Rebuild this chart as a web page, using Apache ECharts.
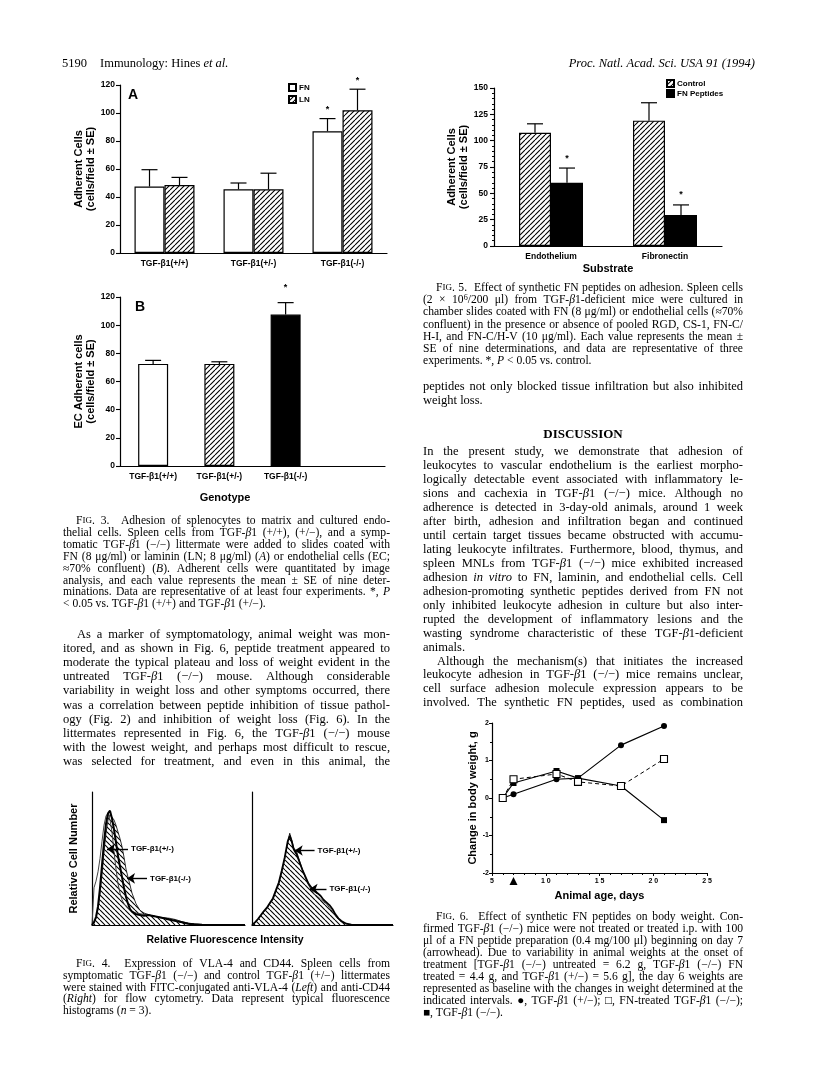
<!DOCTYPE html>
<html>
<head>
<meta charset="utf-8">
<script src="https://cdn.jsdelivr.net/npm/echarts@6/dist/echarts.min.js"></script>
<style>
html, body { margin: 0; padding: 0; background: #fff; }
#page { width: 816px; height: 1078px; }
</style>
</head>
<body>
<div id="page"></div>
<script>
// ---- Fig. 3A: adhesion to FN / LN
const genotypes = ['TGF-β1(+/+)', 'TGF-β1(+/-)', 'TGF-β1(-/-)'];
const fnMean = [47.5, 45.5, 87];
const fnErr = [12, 4.5, 9];
const fnSig = [0, 0, 1];
const lnMean = [48.5, 45.5, 102];
const lnErr = [5.5, 11.5, 15];
const lnSig = [0, 0, 1];

// ---- Fig. 3B: adhesion to endothelial cells
const ecMean = [72.5, 72.5, 107.5];
const ecErr = [2.5, 1.5, 8.5];
const ecSig = [0, 0, 1];

// ---- Fig. 5: FN peptides
const substrates = ['Endothelium', 'Fibronectin'];
const controlMean = [107.5, 119];
const controlErr = [8.5, 17];
const peptideMean = [60, 29.5];
const peptideErr = [14, 9.5];
const peptideSig = [1, 1];

// ---- Fig. 6: body weight
const days = [6, 7, 11, 13, 17, 21];
const hetWeight = [0, 0.1, 0.5, 0.53, 1.41, 1.92];
const treatedWeight = [0, 0.5, 0.64, 0.43, 0.32, 1.04];
const untreatedWeight = [0, 0.4, 0.72, 0.53, 0.32, -0.59];
const treatmentDay = 7;

// ---- Fig. 4: fluorescence histograms (relative counts by channel)
const vlaChan = [0, 2, 4, 6, 8, 10, 12, 14, 16, 18, 20, 22, 24, 26, 28, 30, 32, 34, 36, 38, 40, 44, 48, 52, 56, 60, 66, 72, 78, 84, 90, 96, 102, 110, 120, 153];
const vlaHet = [0, 1, 5, 12, 23, 38, 55, 69, 79, 83, 82, 79, 75, 70, 65, 59, 51, 42, 36, 30, 24, 16, 11, 9, 8, 7, 6, 5.5, 5, 4, 2.5, 1.5, 0.8, 0.3, 0, 0];
const vlaKo = [0, 2, 6, 14, 28, 45, 62, 76, 84, 86, 80, 72, 62, 52, 44, 36, 28, 21, 16, 12, 10, 8, 7.5, 7, 7.5, 7, 6, 5, 4, 3, 2, 1, 0.5, 0.2, 0, 0];
const vlaOther = [0, 28, 33, 40, 50, 63, 75, 82, 84, 79, 70, 55, 42, 31, 24, 19, 16, 14, 12.5, 11, 10, 9, 8.5, 8, 7.5, 7, 6, 5, 4, 3, 2, 1.2, 0.6, 0.2, 0, 0];
const cdChan = [0, 3, 6, 9, 12, 15, 18, 21, 24, 27, 30, 33, 36, 38, 40, 42, 45, 48, 51, 54, 57, 60, 63, 66, 69, 72, 75, 78, 81, 84, 87, 90, 95, 100, 110, 142];
const cdHet = [0, 2, 4, 7, 10, 12.5, 16, 19, 25, 31, 40, 50, 62, 69, 64, 58, 55, 48, 41, 35, 30, 26, 23, 21.5, 19.5, 17.5, 16, 13, 10, 7, 4.5, 2.5, 0.8, 0.2, 0, 0];
const cdKo = [0, 2, 4.5, 7.5, 10.5, 13, 16.5, 20, 26, 32, 41, 51, 63, 67, 63, 57, 53, 47, 41, 36, 31, 28, 26, 24, 22, 19, 17, 15, 12, 8, 5, 3, 1, 0.3, 0, 0];
const vlaArrows = [['TGF-β1(+/-)', 36, 15, 57], ['TGF-β1(-/-)', 55, 35, 35]];
const cdArrows = [['TGF-β1(+/-)', 63, 43, 56], ['TGF-β1(-/-)', 75, 58, 27]];

// ---- page text
const fig3Caption = [
  'F{sc|IG}. 3.  Adhesion of splenocytes to matrix and cultured endo-',
  'thelial cells. Spleen cells from TGF-{i|β}1 (+/+), (+/−), and a symp-',
  'tomatic TGF-{i|β}1 (−/−) littermate were added to slides coated with',
  'FN (8 μg/ml) or laminin (LN; 8 μg/ml) ({i|A}) or endothelial cells (EC;',
  '≈70% confluent) ({i|B}). Adherent cells were quantitated by image',
  'analysis, and each value represents the mean ± SE of nine deter-',
  'minations. Data are representative of at least four experiments. *, {i|P}',
  '< 0.05 vs. TGF-{i|β}1 (+/+) and TGF-{i|β}1 (+/−).'
];
const leftBody = [
  'As a marker of symptomatology, animal weight was mon-',
  'itored, and as shown in Fig. 6, peptide treatment appeared to',
  'moderate the typical plateau and loss of weight evident in the',
  'untreated TGF-{i|β}1 (−/−) mouse. Although considerable',
  'variability in weight loss and other symptoms occurred, there',
  'was a correlation between peptide inhibition of tissue pathol-',
  'ogy (Fig. 2) and inhibition of weight loss (Fig. 6). In the',
  'littermates represented in Fig. 6, the TGF-{i|β}1 (−/−) mouse',
  'with the lowest weight, and perhaps most difficult to rescue,',
  'was selected for treatment, and even in this animal, the'
];
const fig4Caption = [
  'F{sc|IG}. 4.  Expression of VLA-4 and CD44. Spleen cells from',
  'symptomatic TGF-{i|β}1 (−/−) and control TGF-{i|β}1 (+/−) littermates',
  'were stained with FITC-conjugated anti-VLA-4 ({i|Left}) and anti-CD44',
  '({i|Right}) for flow cytometry. Data represent typical fluorescence',
  'histograms ({i|n} = 3).'
];
const fig5Caption = [
  'F{sc|IG}. 5.  Effect of synthetic FN peptides on adhesion. Spleen cells',
  '(2 × 10{sup|6}/200 μl) from TGF-{i|β}1-deficient mice were cultured in',
  'chamber slides coated with FN (8 μg/ml) or endothelial cells (≈70%',
  'confluent) in the presence or absence of pooled RGD, CS-1, FN-C/',
  'H-I, and FN-C/H-V (10 μg/ml). Each value represents the mean ±',
  'SE of nine determinations, and data are representative of three',
  'experiments. *, {i|P} < 0.05 vs. control.'
];
const rightBodyTop = [
  'peptides not only blocked tissue infiltration but also inhibited',
  'weight loss.'
];
const discussion1 = [
  'In the present study, we demonstrate that adhesion of',
  'leukocytes to vascular endothelium is the earliest morpho-',
  'logically detectable event associated with inflammatory le-',
  'sions and cachexia in TGF-{i|β}1 (−/−) mice. Although no',
  'adherence is detected in 3-day-old animals, around 1 week',
  'after birth, adhesion and infiltration began and continued',
  'until certain target tissues became obstructed with accumu-',
  'lating leukocyte infiltrates. Furthermore, blood, thymus, and',
  'spleen MNLs from TGF-{i|β}1 (−/−) mice exhibited increased',
  'adhesion {i|in} {i|vitro} to FN, laminin, and endothelial cells. Cell',
  'adhesion-promoting synthetic peptides derived from FN not',
  'only inhibited leukocyte adhesion in culture but also inter-',
  'rupted the development of inflammatory lesions and the',
  'wasting syndrome characteristic of these TGF-{i|β}1-deficient',
  'animals.'
];
const discussion2 = [
  'Although the mechanism(s) that initiates the increased',
  'leukocyte adhesion in TGF-{i|β}1 (−/−) mice remains unclear,',
  'cell surface adhesion molecule expression appears to be',
  'involved. The synthetic FN peptides, used as combination'
];
const fig6Caption = [
  'F{sc|IG}. 6.  Effect of synthetic FN peptides on body weight. Con-',
  'firmed TGF-{i|β}1 (−/−) mice were not treated or treated i.p. with 100',
  'μl of a FN peptide preparation (0.4 mg/100 μl) beginning on day 7',
  '(arrowhead). Due to variability in animal weights at the onset of',
  'treatment [TGF-{i|β}1 (−/−) untreated = 6.2 g, TGF-{i|β}1 (−/−) FN',
  'treated = 4.4 g, and TGF-{i|β}1 (+/−) = 5.6 g], the day 6 weights are',
  'represented as baseline with the changes in weight determined at the',
  'indicated intervals. ●, TGF-{i|β}1 (+/−); □, FN-treated TGF-{i|β}1 (−/−);',
  '■, TGF-{i|β}1 (−/−).'
];

const SERIF = "'Liberation Serif', 'Times New Roman', serif";
const SANS = "'Liberation Sans', Arial, Helvetica, sans-serif";
const CAP = 11.6;   // caption font size
const BODY = 12.5;  // body font size

// hatch patterns
function makeHatch(dir) {
  const s = 5;
  const c = document.createElement('canvas');
  c.width = s; c.height = s;
  const g = c.getContext('2d');
  g.fillStyle = '#fff';
  g.fillRect(0, 0, s, s);
  g.strokeStyle = '#000';
  g.lineWidth = 1.1;
  g.beginPath();
  for (let k = -1; k <= 1; k++) {
    if (dir > 0) { g.moveTo(k * s, s); g.lineTo(k * s + s, 0); }
    else { g.moveTo(k * s, 0); g.lineTo(k * s + s, s); }
  }
  g.stroke();
  return { image: c, repeat: 'repeat' };
}
const hatchFwd = makeHatch(1);
const hatchBack = makeHatch(-1);

// ---- text layout helpers (justified columns)
const meas = document.createElement('canvas').getContext('2d');
function fontOf(size, key) {
  if (key === 'i') return 'italic ' + size + 'px ' + SERIF;
  if (key === 'sc') return (size * 0.78).toFixed(2) + 'px ' + SERIF;
  if (key === 'sup') return (size * 0.7).toFixed(2) + 'px ' + SERIF;
  if (key === 'b') return 'bold ' + size + 'px ' + SERIF;
  return size + 'px ' + SERIF;
}
function richOf(size) {
  return {
    i: { font: fontOf(size, 'i'), fill: '#000' },
    sc: { font: fontOf(size, 'sc'), fill: '#000' },
    sup: { font: fontOf(size, 'sup'), fill: '#000', padding: [0, 0, size * 0.45, 0] }
  };
}
function segs(word) {
  const out = [];
  const re = /\{(\w+)\|([^}]*)\}/g;
  let last = 0, m;
  while ((m = re.exec(word))) {
    if (m.index > last) out.push(['', word.slice(last, m.index)]);
    out.push([m[1], m[2]]);
    last = re.lastIndex;
  }
  if (last < word.length) out.push(['', word.slice(last)]);
  return out;
}
function wordW(word, size) {
  let w = 0;
  segs(word).forEach(function (s) {
    meas.font = fontOf(size, s[0]);
    w += meas.measureText(s[1]).width;
  });
  return w;
}
function textEl(markup, x, y, size, align) {
  return {
    type: 'text', x: x, y: y, silent: true,
    style: { text: markup, font: fontOf(size, ''), fill: '#000', rich: richOf(size), align: align || 'left', verticalAlign: 'middle' }
  };
}
function block(lines, x, y0, lh, width, size, opts) {
  opts = opts || {};
  const els = [];
  lines.forEach(function (line, k) {
    const y = y0 + k * lh;
    const indent = (k === 0 && opts.indent) ? opts.indent : 0;
    const isLast = (k === lines.length - 1) && !opts.justifyLast;
    const words = line.split(' ');
    const ws = words.map(function (w) { return wordW(w, size); });
    const total = ws.reduce(function (a, b) { return a + b; }, 0);
    let gap = wordW(' ', size);
    if (!isLast && words.length > 1) gap = (width - indent - total) / (words.length - 1);
    let cx = x + indent;
    words.forEach(function (w, j) {
      if (w) els.push(textEl(w, cx, y, size));
      cx += ws[j] + gap;
    });
  });
  return els;
}
function sansText(text, x, y, size) {
  return {
    type: 'text', x: x, y: y, silent: true,
    style: { text: text, font: 'bold ' + size + 'px ' + SANS, fill: '#000', align: 'center', verticalAlign: 'middle' }
  };
}

// ---- axes styling
const axLine = { show: true, lineStyle: { color: '#000', width: 1.2 } };
const axTick = { show: true, length: 4, lineStyle: { color: '#000', width: 1.1 } };
function lab(size, extra) {
  return Object.assign({ color: '#000', fontFamily: SANS, fontWeight: 'bold', fontSize: size }, extra || {});
}
function nameStyle(size) {
  return { color: '#000', fontFamily: SANS, fontWeight: 'bold', fontSize: size, lineHeight: size + 1 };
}

// error bars (upper whisker + cap, optional asterisk)
function errorSeries(means, errs, sigs, xi, offset, starGap) {
  return {
    type: 'custom', xAxisIndex: xi, yAxisIndex: xi, silent: true, z: 5,
    data: means.map(function (m, i) { return [i, m, m + errs[i], sigs[i]]; }),
    renderItem: function (params, api) {
      const base = api.coord([api.value(0), api.value(1)]);
      const top = api.coord([api.value(0), api.value(2)]);
      const x = base[0] + offset;
      const kids = [
        { type: 'line', shape: { x1: x, y1: base[1], x2: x, y2: top[1] }, style: { stroke: '#000', lineWidth: 1.2 } },
        { type: 'line', shape: { x1: x - 8, y1: top[1], x2: x + 8, y2: top[1] }, style: { stroke: '#000', lineWidth: 1.2 } }
      ];
      if (api.value(3)) {
        kids.push({ type: 'text', style: { text: '*', x: x, y: top[1] - starGap, align: 'center', verticalAlign: 'middle', font: 'bold 9px ' + SANS, fill: '#000' } });
      }
      return { type: 'group', children: kids };
    }
  };
}
function arrowMarks(list) {
  return {
    silent: true, symbol: ['none', 'arrow'], symbolSize: 8, animation: false,
    lineStyle: { color: '#000', width: 1.4, type: 'solid' },
    label: { show: true, position: 'start', formatter: '{b}', distance: 3, color: '#000', fontFamily: SANS, fontWeight: 'bold', fontSize: 8 },
    data: list.map(function (a) { return [{ name: a[0], coord: [a[1], a[3]] }, { coord: [a[2], a[3]] }]; })
  };
}
function pairs(xs, ys) { return xs.map(function (x, i) { return [x, ys[i]]; }); }

const chart = echarts.init(document.getElementById('page'), null, { renderer: 'canvas' });

const option = {
  backgroundColor: '#fff',
  animation: false,
  grid: [
    { left: 120, top: 85, width: 267, height: 168 },
    { left: 120, top: 297, width: 265, height: 169 },
    { left: 92, top: 792, width: 153, height: 133 },
    { left: 252, top: 792, width: 141, height: 133 },
    { left: 494, top: 88, width: 228, height: 158 },
    { left: 492, top: 723, width: 215, height: 150 }
  ],
  legend: [
    { data: ['FN', 'LN'], left: 288, top: 83, padding: 0, orient: 'vertical', icon: 'rect', itemWidth: 7, itemHeight: 7, itemGap: 3, textStyle: lab(8, { padding: [0, 0, 0, -2] }) },
    { data: ['Control', 'FN Peptides'], left: 666, top: 79, padding: 0, orient: 'vertical', icon: 'rect', itemWidth: 7, itemHeight: 7, itemGap: 1, textStyle: lab(8, { padding: [0, 0, 0, -2] }) }
  ],
  xAxis: [
    { gridIndex: 0, type: 'category', data: genotypes, axisLine: axLine, axisTick: { show: false }, axisLabel: lab(8.5, { margin: 6 }), splitLine: { show: false } },
    { gridIndex: 1, type: 'category', data: genotypes.concat(['']), axisLine: axLine, axisTick: { show: false }, axisLabel: lab(8.5, { margin: 6 }), splitLine: { show: false } },
    { gridIndex: 2, type: 'value', min: 0, max: 153, axisLine: axLine, axisTick: { show: false }, axisLabel: { show: false }, splitLine: { show: false } },
    { gridIndex: 3, type: 'value', min: 0, max: 142, axisLine: axLine, axisTick: { show: false }, axisLabel: { show: false }, splitLine: { show: false } },
    { gridIndex: 4, type: 'category', data: substrates, axisLine: axLine, axisTick: { show: false }, axisLabel: lab(8.5, { margin: 6 }), splitLine: { show: false },
      name: 'Substrate', nameLocation: 'middle', nameGap: 17, nameTextStyle: nameStyle(11) },
    { gridIndex: 5, type: 'value', min: 5, max: 25, interval: 5, axisLine: Object.assign({ onZero: false }, axLine), axisTick: { show: true, length: 3, lineStyle: { color: '#000' } },
      minorTick: { show: true, splitNumber: 5, length: 2, lineStyle: { color: '#000' } },
      axisLabel: lab(7, { margin: 5, formatter: function (v) { return String(v).split('').join(' '); } }), splitLine: { show: false },
      name: 'Animal age, days', nameLocation: 'middle', nameGap: 17, nameTextStyle: nameStyle(11) }
  ],
  yAxis: [
    { gridIndex: 0, type: 'value', min: 0, max: 120, interval: 20, axisLine: axLine, axisTick: axTick, axisLabel: lab(8.5, { margin: 5 }), splitLine: { show: false },
      name: 'Adherent Cells\n(cells/field ± SE)', nameLocation: 'middle', nameRotate: 90, nameGap: 19, nameTextStyle: nameStyle(11) },
    { gridIndex: 1, type: 'value', min: 0, max: 120, interval: 20, axisLine: axLine, axisTick: axTick, axisLabel: lab(8.5, { margin: 5 }), splitLine: { show: false },
      name: 'EC Adherent cells\n(cells/field ± SE)', nameLocation: 'middle', nameRotate: 90, nameGap: 23, nameTextStyle: nameStyle(11) },
    { gridIndex: 2, type: 'value', min: 0, max: 100, axisLine: axLine, axisTick: { show: false }, axisLabel: { show: false }, splitLine: { show: false },
      name: 'Relative Cell Number', nameLocation: 'middle', nameRotate: 90, nameGap: 12, nameTextStyle: nameStyle(11) },
    { gridIndex: 3, type: 'value', min: 0, max: 100, axisLine: axLine, axisTick: { show: false }, axisLabel: { show: false }, splitLine: { show: false } },
    { gridIndex: 4, type: 'value', min: 0, max: 150, interval: 25, axisLine: axLine, axisTick: axTick,
      minorTick: { show: true, splitNumber: 5, length: 2, lineStyle: { color: '#000' } },
      axisLabel: lab(8.5, { margin: 6 }), splitLine: { show: false },
      name: 'Adherent Cells\n(cells/field ± SE)', nameLocation: 'middle', nameRotate: 90, nameGap: 20, nameTextStyle: nameStyle(11) },
    { gridIndex: 5, type: 'value', min: -2, max: 2, interval: 1, axisLine: Object.assign({ onZero: false }, axLine), axisTick: { show: true, length: 3, lineStyle: { color: '#000' } },
      minorTick: { show: true, splitNumber: 2, length: 2, lineStyle: { color: '#000' } },
      axisLabel: lab(7, { margin: 3 }), splitLine: { show: false },
      name: 'Change in body weight, g', nameLocation: 'middle', nameRotate: 90, nameGap: 12, nameTextStyle: nameStyle(11) }
  ],
  series: [
    // Fig 3A
    { type: 'bar', name: 'FN', xAxisIndex: 0, yAxisIndex: 0, data: fnMean, barWidth: 30, barGap: '0%',
      itemStyle: { color: '#fff', borderColor: '#000', borderWidth: 1.2 } },
    { type: 'bar', name: 'LN', xAxisIndex: 0, yAxisIndex: 0, data: lnMean, barWidth: 30, barGap: '0%',
      itemStyle: { color: hatchFwd, borderColor: '#000', borderWidth: 1.2 } },
    errorSeries(fnMean, fnErr, fnSig, 0, -15, 9),
    errorSeries(lnMean, lnErr, lnSig, 0, 15, 9),
    // Fig 3B
    { type: 'bar', name: 'EC', xAxisIndex: 1, yAxisIndex: 1, barWidth: 30,
      data: ecMean.map(function (v, i) {
        const fills = ['#fff', hatchFwd, '#000'];
        return { value: v, itemStyle: { color: fills[i], borderColor: '#000', borderWidth: 1.2 } };
      }) },
    errorSeries(ecMean, ecErr, ecSig, 1, 0, 15),
    // Fig 4 left (VLA-4)
    { type: 'line', name: 'vlaHet', xAxisIndex: 2, yAxisIndex: 2, data: pairs(vlaChan, vlaHet), symbol: 'none',
      lineStyle: { color: '#000', width: 0.8 }, areaStyle: { color: hatchBack, opacity: 1 }, z: 2 },
    { type: 'line', name: 'vlaOther', xAxisIndex: 2, yAxisIndex: 2, data: pairs(vlaChan, vlaOther), symbol: 'none',
      lineStyle: { color: '#444', width: 1 }, z: 3 },
    { type: 'line', name: 'vlaKo', xAxisIndex: 2, yAxisIndex: 2, data: pairs(vlaChan, vlaKo), symbol: 'none',
      lineStyle: { color: '#000', width: 2 }, z: 4, markLine: arrowMarks(vlaArrows) },
    // Fig 4 right (CD44)
    { type: 'line', name: 'cdHet', xAxisIndex: 3, yAxisIndex: 3, data: pairs(cdChan, cdHet), symbol: 'none',
      lineStyle: { color: '#000', width: 0.8 }, areaStyle: { color: hatchBack, opacity: 1 }, z: 2 },
    { type: 'line', name: 'cdKo', xAxisIndex: 3, yAxisIndex: 3, data: pairs(cdChan, cdKo), symbol: 'none',
      lineStyle: { color: '#000', width: 1.8 }, z: 4, markLine: arrowMarks(cdArrows) },
    // Fig 5
    { type: 'bar', name: 'Control', xAxisIndex: 4, yAxisIndex: 4, data: controlMean, barWidth: 32, barGap: '0%',
      itemStyle: { color: hatchFwd, borderColor: '#000', borderWidth: 1.2 } },
    { type: 'bar', name: 'FN Peptides', xAxisIndex: 4, yAxisIndex: 4, data: peptideMean, barWidth: 32, barGap: '0%',
      itemStyle: { color: '#000', borderColor: '#000', borderWidth: 1.2 } },
    errorSeries(controlMean, controlErr, [0, 0], 4, -16, 10),
    errorSeries(peptideMean, peptideErr, peptideSig, 4, 16, 10),
    // Fig 6
    { type: 'line', name: 'untreated', xAxisIndex: 5, yAxisIndex: 5, data: pairs(days, untreatedWeight), symbol: 'rect', symbolSize: 6,
      itemStyle: { color: '#000' }, lineStyle: { color: '#000', width: 1.2 }, z: 2 },
    { type: 'line', name: 'het', xAxisIndex: 5, yAxisIndex: 5, data: pairs(days, hetWeight), symbol: 'circle', symbolSize: 6,
      itemStyle: { color: '#000' }, lineStyle: { color: '#000', width: 1.2 }, z: 3,
      markPoint: { silent: true, symbol: 'triangle', symbolSize: [8, 8], symbolOffset: [0, 8], itemStyle: { color: '#000' }, label: { show: false },
        data: [{ coord: [treatmentDay, -2] }] } },
    { type: 'line', name: 'treated', xAxisIndex: 5, yAxisIndex: 5, data: pairs(days, treatedWeight), symbol: 'rect', symbolSize: 7,
      itemStyle: { color: '#fff', borderColor: '#000', borderWidth: 1.1 }, lineStyle: { color: '#000', width: 1, type: [4, 3] }, z: 4 }
  ],
  graphic: { elements: [] }
};

// page furniture: header, panel letters, axis titles drawn as text
let els = [];
els.push(textEl('5190', 62, 64, BODY));
els.push(textEl('Immunology: Hines {i|et} {i|al.}', 100, 64, BODY));
els.push(textEl('{i|Proc.} {i|Natl.} {i|Acad.} {i|Sci.} {i|USA} {i|91} {i|(1994)}', 755, 64, BODY, 'right'));
els.push(sansText('A', 133, 95, 14));
els.push(sansText('B', 140, 307, 14));
els.push(sansText('Genotype', 225, 498, 11));
els.push(sansText('Relative Fluorescence Intensity', 225, 940, 10.5));

els = els.concat(block(fig3Caption, 63, 521, 11.9, 327, CAP, { indent: 13 }));
els = els.concat(block(leftBody, 63, 635, 14.05, 327, BODY, { indent: 14, justifyLast: true }));
els = els.concat(block(fig4Caption, 63, 964, 11.8, 327, CAP, { indent: 13 }));

els = els.concat(block(fig5Caption, 423, 288, 12.2, 320, CAP, { indent: 13 }));
els = els.concat(block(rightBodyTop, 423, 387, 13.6, 320, BODY));
els.push({ type: 'text', x: 583, y: 435, silent: true, style: { text: 'DISCUSSION', font: 'bold 13px ' + SERIF, fill: '#000', align: 'center', verticalAlign: 'middle' } });
els = els.concat(block(discussion1, 423, 452, 13.95, 320, BODY));
els = els.concat(block(discussion2, 423, 452 + 15 * 13.95, 13.95, 320, BODY, { indent: 14, justifyLast: true }));
els = els.concat(block(fig6Caption, 423, 917, 11.95, 320, CAP, { indent: 13 }));

option.graphic.elements = els;
chart.setOption(option);
</script>
</body>
</html>
